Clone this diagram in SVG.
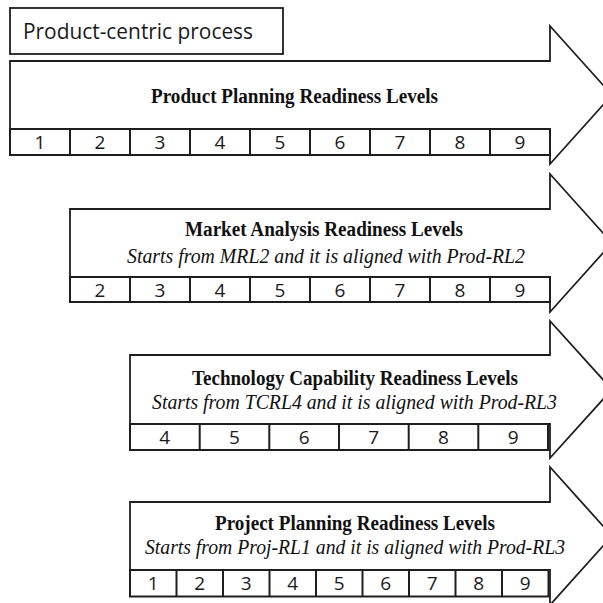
<svg xmlns="http://www.w3.org/2000/svg" width="603" height="603" viewBox="0 0 603 603">
  <defs>
    <style>
      .frame { fill: #ffffff; stroke: #1e1e1e; stroke-width: 1.8; stroke-linejoin: miter; }
      .cells { fill: #ffffff; stroke: #1e1e1e; stroke-width: 2; }
      .div { stroke: #1e1e1e; stroke-width: 2; }
      .num { font-family: "Open Sans", "Noto Sans", "Liberation Sans", sans-serif; font-size: 19px; fill: #1a1a1a; text-anchor: middle; }
      .title { font-family: "Liberation Serif", "Times New Roman", "DejaVu Serif", serif; font-weight: bold; font-size: 20px; fill: #111111; }
      .sub { font-family: "Liberation Serif", "Times New Roman", "DejaVu Serif", serif; font-style: italic; font-size: 20.5px; fill: #111111; }
      .label { font-family: "Open Sans", "Noto Sans", "Liberation Sans", sans-serif; font-size: 21px; fill: #1a1a1a; }
    </style>
  </defs>
  <rect width="603" height="603" fill="#ffffff"/>

  <!-- heading box -->
  <g id="heading">
    <rect class="frame" x="10" y="8" width="273" height="46"/>
    <text class="label" x="23" y="39" textLength="230" lengthAdjust="spacingAndGlyphs">Product-centric process</text>
  </g>

  <!-- Product Planning Readiness Levels -->
  <g id="prod-rl">
    <polygon class="frame" points="10,61 550,61 550,26 612,95 550,164 550,129 10,129"/>
    <text class="title" x="151" y="103" textLength="287" lengthAdjust="spacingAndGlyphs">Product Planning Readiness Levels</text>
    <rect class="cells" x="10" y="129" width="540" height="26"/>
    <g class="div">
      <line x1="70" y1="129" x2="70" y2="155"/>
      <line x1="130" y1="129" x2="130" y2="155"/>
      <line x1="190" y1="129" x2="190" y2="155"/>
      <line x1="250" y1="129" x2="250" y2="155"/>
      <line x1="310" y1="129" x2="310" y2="155"/>
      <line x1="370" y1="129" x2="370" y2="155"/>
      <line x1="430" y1="129" x2="430" y2="155"/>
      <line x1="490" y1="129" x2="490" y2="155"/>
    </g>
    <g class="num">
      <text x="40" y="149">1</text>
      <text x="100" y="149">2</text>
      <text x="160" y="149">3</text>
      <text x="220" y="149">4</text>
      <text x="280" y="149">5</text>
      <text x="340" y="149">6</text>
      <text x="400" y="149">7</text>
      <text x="460" y="149">8</text>
      <text x="520" y="149">9</text>
    </g>
  </g>

  <!-- Market Analysis Readiness Levels -->
  <g id="mrl">
    <polygon class="frame" points="70,209 550,209 550,174 612,243 550,312 550,277 70,277"/>
    <text class="title" x="185" y="236" textLength="278" lengthAdjust="spacingAndGlyphs">Market Analysis  Readiness Levels</text>
    <text class="sub" x="127" y="263" textLength="398" lengthAdjust="spacingAndGlyphs">Starts from MRL2 and it is aligned with Prod-RL2</text>
    <rect class="cells" x="70" y="277" width="480" height="25"/>
    <g class="div">
      <line x1="130" y1="277" x2="130" y2="302"/>
      <line x1="190" y1="277" x2="190" y2="302"/>
      <line x1="250" y1="277" x2="250" y2="302"/>
      <line x1="310" y1="277" x2="310" y2="302"/>
      <line x1="370" y1="277" x2="370" y2="302"/>
      <line x1="430" y1="277" x2="430" y2="302"/>
      <line x1="490" y1="277" x2="490" y2="302"/>
    </g>
    <g class="num">
      <text x="100" y="297">2</text>
      <text x="160" y="297">3</text>
      <text x="220" y="297">4</text>
      <text x="280" y="297">5</text>
      <text x="340" y="297">6</text>
      <text x="400" y="297">7</text>
      <text x="460" y="297">8</text>
      <text x="520" y="297">9</text>
    </g>
  </g>

  <!-- Technology Capability Readiness Levels -->
  <g id="tcrl">
    <polygon class="frame" points="130,355 550,355 550,321 612,389.5 550,458 550,424 130,424"/>
    <text class="title" x="192" y="385" textLength="326" lengthAdjust="spacingAndGlyphs">Technology Capability  Readiness Levels</text>
    <text class="sub" x="152" y="409" textLength="405" lengthAdjust="spacingAndGlyphs">Starts from TCRL4 and it is aligned with Prod-RL3</text>
    <rect class="cells" x="130" y="424" width="418" height="26"/>
    <g class="div">
      <line x1="199.7" y1="424" x2="199.7" y2="450"/>
      <line x1="269.3" y1="424" x2="269.3" y2="450"/>
      <line x1="339" y1="424" x2="339" y2="450"/>
      <line x1="408.7" y1="424" x2="408.7" y2="450"/>
      <line x1="478.3" y1="424" x2="478.3" y2="450"/>
    </g>
    <g class="num">
      <text x="164.8" y="444">4</text>
      <text x="234.5" y="444">5</text>
      <text x="304.2" y="444">6</text>
      <text x="373.8" y="444">7</text>
      <text x="443.5" y="444">8</text>
      <text x="513.2" y="444">9</text>
    </g>
  </g>

  <!-- Project Planning Readiness Levels -->
  <g id="proj-rl">
    <polygon class="frame" points="130,502 550,502 550,467 612,536 550,605 550,570 130,570"/>
    <text class="title" x="215" y="530" textLength="280" lengthAdjust="spacingAndGlyphs">Project Planning Readiness Levels</text>
    <text class="sub" x="145" y="554" textLength="420" lengthAdjust="spacingAndGlyphs">Starts from Proj-RL1 and it is aligned with  Prod-RL3</text>
    <rect class="cells" x="130" y="570" width="418.5" height="26.5"/>
    <g class="div">
      <line x1="176.5" y1="570" x2="176.5" y2="596.5"/>
      <line x1="223" y1="570" x2="223" y2="596.5"/>
      <line x1="269.5" y1="570" x2="269.5" y2="596.5"/>
      <line x1="316" y1="570" x2="316" y2="596.5"/>
      <line x1="362.5" y1="570" x2="362.5" y2="596.5"/>
      <line x1="409" y1="570" x2="409" y2="596.5"/>
      <line x1="455.5" y1="570" x2="455.5" y2="596.5"/>
      <line x1="502" y1="570" x2="502" y2="596.5"/>
    </g>
    <g class="num">
      <text x="153.3" y="590">1</text>
      <text x="199.8" y="590">2</text>
      <text x="246.3" y="590">3</text>
      <text x="292.8" y="590">4</text>
      <text x="339.3" y="590">5</text>
      <text x="385.8" y="590">6</text>
      <text x="432.3" y="590">7</text>
      <text x="478.8" y="590">8</text>
      <text x="525.3" y="590">9</text>
    </g>
  </g>
</svg>
